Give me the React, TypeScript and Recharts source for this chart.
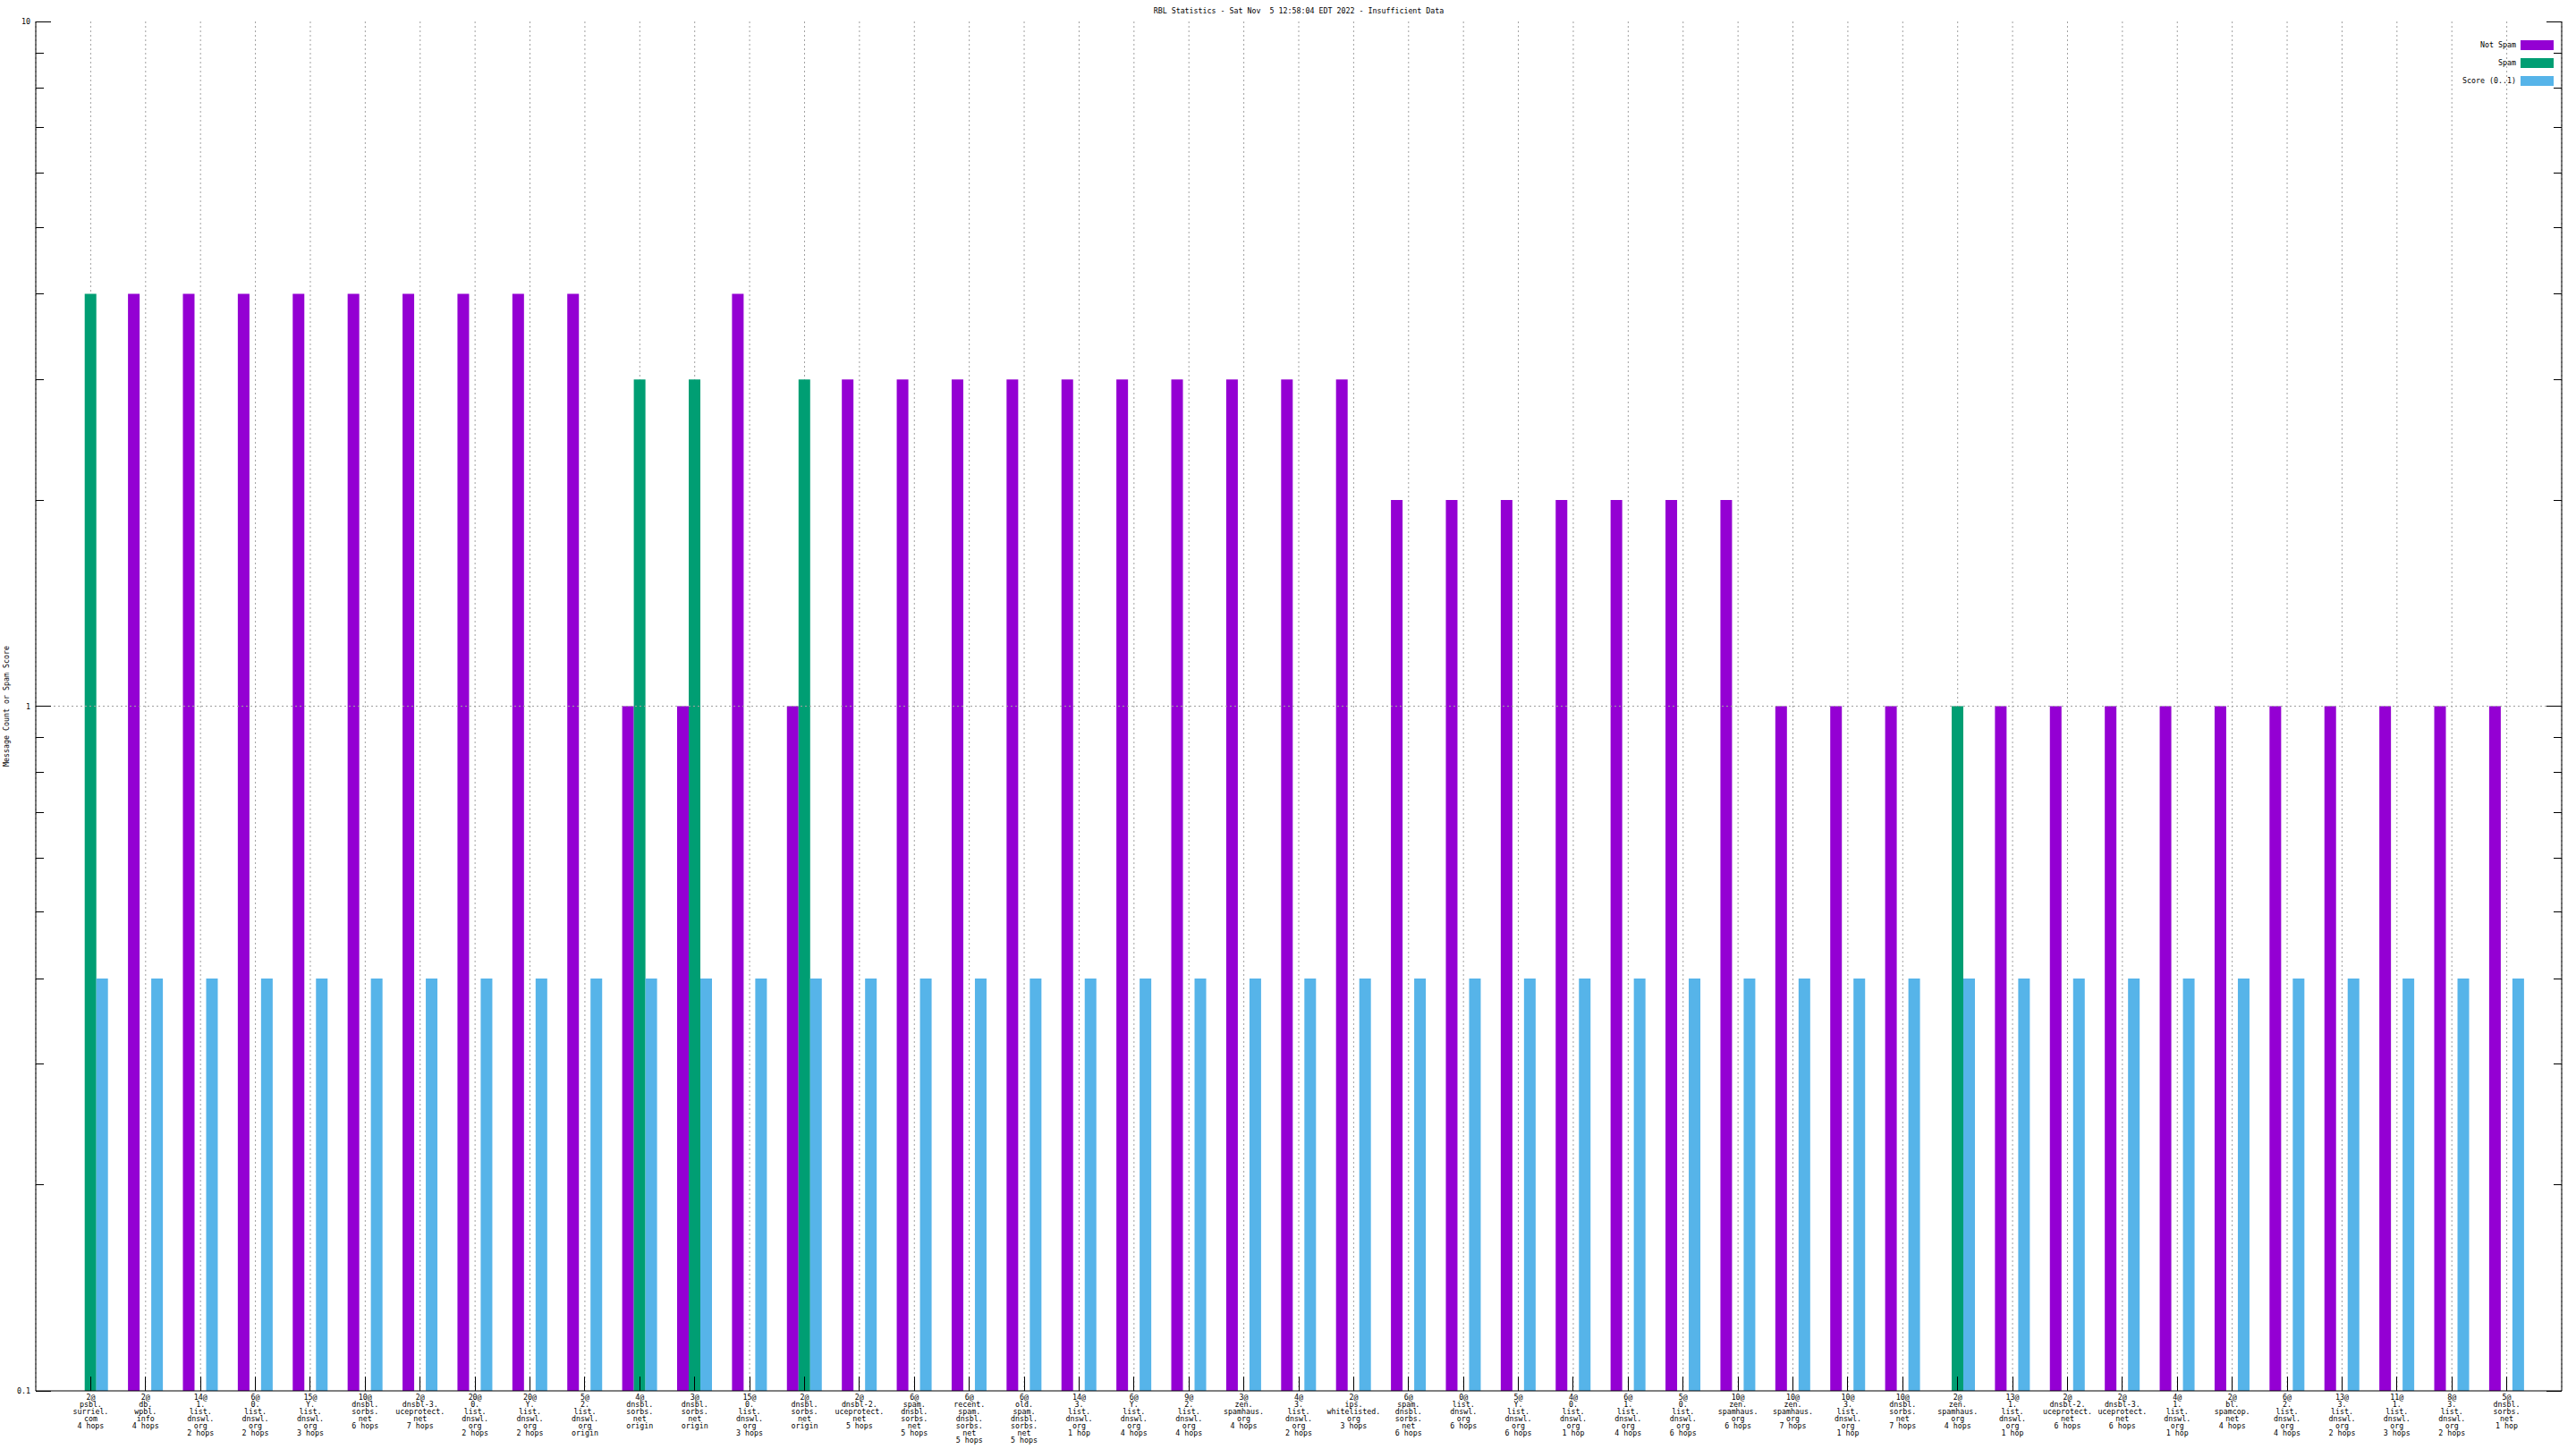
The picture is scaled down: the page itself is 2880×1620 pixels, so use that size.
import React from 'react';
import { BarChart, Bar, XAxis, YAxis, CartesianGrid, ReferenceLine, Legend } from 'recharts';

const title = 'RBL Statistics - Sat Nov  5 12:58:04 EDT 2022 - Insufficient Data';
const yLabel = 'Message Count or Spam Score';

const categories: string[] = [
  '2@\npsbl.\nsurriel.\ncom\n4 hops',
  '2@\ndb.\nwpbl.\ninfo\n4 hops',
  '14@\n1.\nlist.\ndnswl.\norg\n2 hops',
  '6@\n0.\nlist.\ndnswl.\norg\n2 hops',
  '15@\nY.\nlist.\ndnswl.\norg\n3 hops',
  '10@\ndnsbl.\nsorbs.\nnet\n6 hops',
  '2@\ndnsbl-3.\nuceprotect.\nnet\n7 hops',
  '20@\n0.\nlist.\ndnswl.\norg\n2 hops',
  '20@\nY.\nlist.\ndnswl.\norg\n2 hops',
  '5@\n2.\nlist.\ndnswl.\norg\norigin',
  '4@\ndnsbl.\nsorbs.\nnet\norigin',
  '3@\ndnsbl.\nsorbs.\nnet\norigin',
  '15@\n0.\nlist.\ndnswl.\norg\n3 hops',
  '2@\ndnsbl.\nsorbs.\nnet\norigin',
  '2@\ndnsbl-2.\nuceprotect.\nnet\n5 hops',
  '6@\nspam.\ndnsbl.\nsorbs.\nnet\n5 hops',
  '6@\nrecent.\nspam.\ndnsbl.\nsorbs.\nnet\n5 hops',
  '6@\nold.\nspam.\ndnsbl.\nsorbs.\nnet\n5 hops',
  '14@\n3.\nlist.\ndnswl.\norg\n1 hop',
  '6@\nY.\nlist.\ndnswl.\norg\n4 hops',
  '9@\n2.\nlist.\ndnswl.\norg\n4 hops',
  '3@\nzen.\nspamhaus.\norg\n4 hops',
  '4@\n3.\nlist.\ndnswl.\norg\n2 hops',
  '2@\nips.\nwhitelisted.\norg\n3 hops',
  '6@\nspam.\ndnsbl.\nsorbs.\nnet\n6 hops',
  '0@\nlist.\ndnswl.\norg\n6 hops',
  '5@\nY.\nlist.\ndnswl.\norg\n6 hops',
  '4@\n0.\nlist.\ndnswl.\norg\n1 hop',
  '6@\n1.\nlist.\ndnswl.\norg\n4 hops',
  '5@\n0.\nlist.\ndnswl.\norg\n6 hops',
  '10@\nzen.\nspamhaus.\norg\n6 hops',
  '10@\nzen.\nspamhaus.\norg\n7 hops',
  '10@\n3.\nlist.\ndnswl.\norg\n1 hop',
  '10@\ndnsbl.\nsorbs.\nnet\n7 hops',
  '2@\nzen.\nspamhaus.\norg\n4 hops',
  '13@\n1.\nlist.\ndnswl.\norg\n1 hop',
  '2@\ndnsbl-2.\nuceprotect.\nnet\n6 hops',
  '2@\ndnsbl-3.\nuceprotect.\nnet\n6 hops',
  '4@\n1.\nlist.\ndnswl.\norg\n1 hop',
  '2@\nbl.\nspamcop.\nnet\n4 hops',
  '6@\n2.\nlist.\ndnswl.\norg\n4 hops',
  '13@\n3.\nlist.\ndnswl.\norg\n2 hops',
  '11@\n1.\nlist.\ndnswl.\norg\n3 hops',
  '8@\n3.\nlist.\ndnswl.\norg\n2 hops',
  '5@\ndnsbl.\nsorbs.\nnet\n1 hop',
];

const notSpam: (number | null)[] = [
  null, 4, 4, 4, 4, 4, 4, 4, 4, 4,
  1, 1, 4, 1, 3, 3, 3, 3, 3, 3,
  3, 3, 3, 3, 2, 2, 2, 2, 2, 2,
  2, 1, 1, 1, null, 1, 1, 1, 1, 1,
  1, 1, 1, 1, 1,
];

const spam: (number | null)[] = [
  4, null, null, null, null, null, null, null, null, null,
  3, 3, null, 3, null, null, null, null, null, null,
  null, null, null, null, null, null, null, null, null, null,
  null, null, null, null, 1, null, null, null, null, null,
  null, null, null, null, null,
];

const score: number[] = [
  0.4, 0.4, 0.4, 0.4, 0.4, 0.4, 0.4, 0.4, 0.4, 0.4,
  0.4, 0.4, 0.4, 0.4, 0.4, 0.4, 0.4, 0.4, 0.4, 0.4,
  0.4, 0.4, 0.4, 0.4, 0.4, 0.4, 0.4, 0.4, 0.4, 0.4,
  0.4, 0.4, 0.4, 0.4, 0.4, 0.4, 0.4, 0.4, 0.4, 0.4,
  0.4, 0.4, 0.4, 0.4, 0.4,
];

const yTicks: number[] = [
  0.1, 0.2, 0.3, 0.4, 0.5, 0.6, 0.7, 0.8, 0.9,
  1, 2, 3, 4, 5, 6, 7, 8, 9, 10,
];
const yMajorTicks: number[] = [0.1, 1, 10];
const yMajorLabels: string[] = ['0.1', '1', '10'];

const seriesNames = ['Not Spam', 'Spam', 'Score (0..1)'];
const COLORS = ['#9400d3', '#009e73', '#56b4e9'];

const data = categories.map((name, i) => ({
  name,
  notSpam: notSpam[i],
  spam: spam[i],
  score: score[i],
}));

const FONT = "'DejaVu Sans Mono', 'Liberation Mono', monospace";
const FS = 8.3;
const MAJOR_LEN = 17;
const MINOR_LEN = 9;
const Y_TICK_MARGIN = 6;
const crisp = (v: number) => Math.floor(v) + 0.5;

const majorIndex = (v: number) => yMajorTicks.findIndex((m) => Math.abs(m - v) < 1e-9);

const LeftYTick = (props: any) => {
  const { x, y, payload } = props;
  const idx = majorIndex(payload.value);
  const ax = x + Y_TICK_MARGIN;
  const cy = crisp(y);
  return (
    <g>
      <line x1={ax} x2={ax + (idx >= 0 ? MAJOR_LEN : MINOR_LEN)} y1={cy} y2={cy} stroke="#000" strokeWidth={1} />
      {idx >= 0 && (
        <text x={x} y={y} dy={3} textAnchor="end" fontFamily={FONT} fontSize={FS} fill="#000">
          {yMajorLabels[idx]}
        </text>
      )}
    </g>
  );
};

const RightYTick = (props: any) => {
  const { x, y, payload } = props;
  const idx = majorIndex(payload.value);
  const cy = crisp(y);
  return (
    <line x1={x} x2={x - (idx >= 0 ? MAJOR_LEN : MINOR_LEN)} y1={cy} y2={cy} stroke="#000" strokeWidth={1} />
  );
};

const BottomXTick = (props: any) => {
  const { x, y, payload } = props;
  const lines = String(payload.value).split('\n');
  const cx = crisp(x);
  return (
    <g>
      <line x1={cx} x2={cx} y1={y} y2={y - 16} stroke="#000" strokeWidth={1} />
      <text x={x} y={y + 10} textAnchor="middle" fontFamily={FONT} fontSize={FS} fill="#000">
        {lines.map((l, i) => (
          <tspan key={i} x={x} dy={i === 0 ? 0 : 8}>
            {l}
          </tspan>
        ))}
      </text>
    </g>
  );
};

const TopXTick = (props: any) => {
  const { x, y } = props;
  const cx = crisp(x);
  return <line x1={cx} x2={cx} y1={y} y2={y + MAJOR_LEN} stroke="#000" strokeWidth={1} />;
};

const YAxisLabel = (props: any) => {
  const vb = props.viewBox || {};
  const cx = (vb.x ?? 0) + 7;
  const cy = (vb.y ?? 24) + (vb.height ?? 1531) / 2;
  return (
    <text
      x={cx}
      y={cy}
      transform={`rotate(-90, ${cx}, ${cy})`}
      textAnchor="middle"
      dominantBaseline="central"
      fontFamily={FONT}
      fontSize={FS}
      fill="#000"
    >
      {yLabel}
    </text>
  );
};

const LegendContent = (props: any) => {
  const payload = [...(props.payload || [])].sort(
    (a: any, b: any) => seriesNames.indexOf(a.value) - seriesNames.indexOf(b.value)
  );
  return (
    <div style={{ fontFamily: FONT, fontSize: FS, color: '#000' }}>
      {payload.map((p: any, i: number) => (
        <div
          key={i}
          style={{ height: 20, display: 'flex', alignItems: 'center', justifyContent: 'flex-end' }}
        >
          <span style={{ lineHeight: 1, whiteSpace: 'pre' }}>{p.value}</span>
          <div style={{ width: 37, height: 11, marginLeft: 5, background: p.color }} />
        </div>
      ))}
    </div>
  );
};

export default function App() {
  const bandPad = 30.7;
  return (
    <div style={{ position: 'absolute', left: 0, top: 0, width: 2880, height: 1620, background: '#fff' }}>
      <div
        style={{
          position: 'absolute',
          left: 40,
          top: 8,
          width: 2824,
          textAlign: 'center',
          fontFamily: FONT,
          fontSize: FS,
          lineHeight: '8px',
          whiteSpace: 'pre',
          color: '#000',
        }}
      >
        {title}
      </div>
      <BarChart
        width={2880}
        height={1620}
        data={data}
        margin={{ top: 24, right: 0, bottom: 0, left: 0 }}
        barGap={0}
      >
        <CartesianGrid vertical horizontal={false} stroke="#a0a0a0" strokeDasharray="2 3" />
        <ReferenceLine y={1} stroke="#a0a0a0" strokeDasharray="2 3" />
        <XAxis
          dataKey="name"
          type="category"
          interval={0}
          height={65}
          padding={{ left: bandPad, right: bandPad }}
          tickLine={false}
          tickSize={0}
          tickMargin={0}
          axisLine={{ stroke: '#000' }}
          tick={<BottomXTick />}
        />
        <XAxis
          xAxisId="top"
          orientation="top"
          dataKey="name"
          type="category"
          interval={0}
          height={0}
          padding={{ left: bandPad, right: bandPad }}
          tickLine={false}
          tickSize={0}
          tickMargin={0}
          axisLine={{ stroke: '#000' }}
          tick={<TopXTick />}
        />
        <YAxis
          scale="log"
          type="number"
          domain={[0.1, 10]}
          allowDataOverflow
          ticks={yTicks}
          interval={0}
          width={40}
          tickLine={false}
          tickSize={0}
          tickMargin={Y_TICK_MARGIN}
          axisLine={{ stroke: '#000' }}
          tick={<LeftYTick />}
          label={(p: any) => <YAxisLabel {...p} />}
        />
        <YAxis
          yAxisId="right"
          orientation="right"
          scale="log"
          type="number"
          domain={[0.1, 10]}
          allowDataOverflow
          ticks={yTicks}
          interval={0}
          width={16}
          tickLine={false}
          tickSize={0}
          tickMargin={0}
          axisLine={{ stroke: '#000' }}
          tick={<RightYTick />}
        />
        <Legend
          layout="vertical"
          align="center"
          verticalAlign="middle"
          wrapperStyle={{ top: 40, right: 25, left: 'auto', width: 'auto' }}
          content={<LegendContent />}
        />
        <Bar dataKey="notSpam" name={seriesNames[0]} fill={COLORS[0]} barSize={13} isAnimationActive={false} />
        <Bar dataKey="spam" name={seriesNames[1]} fill={COLORS[1]} barSize={13} isAnimationActive={false} />
        <Bar dataKey="score" name={seriesNames[2]} fill={COLORS[2]} barSize={13} isAnimationActive={false} />
      </BarChart>
    </div>
  );
}
